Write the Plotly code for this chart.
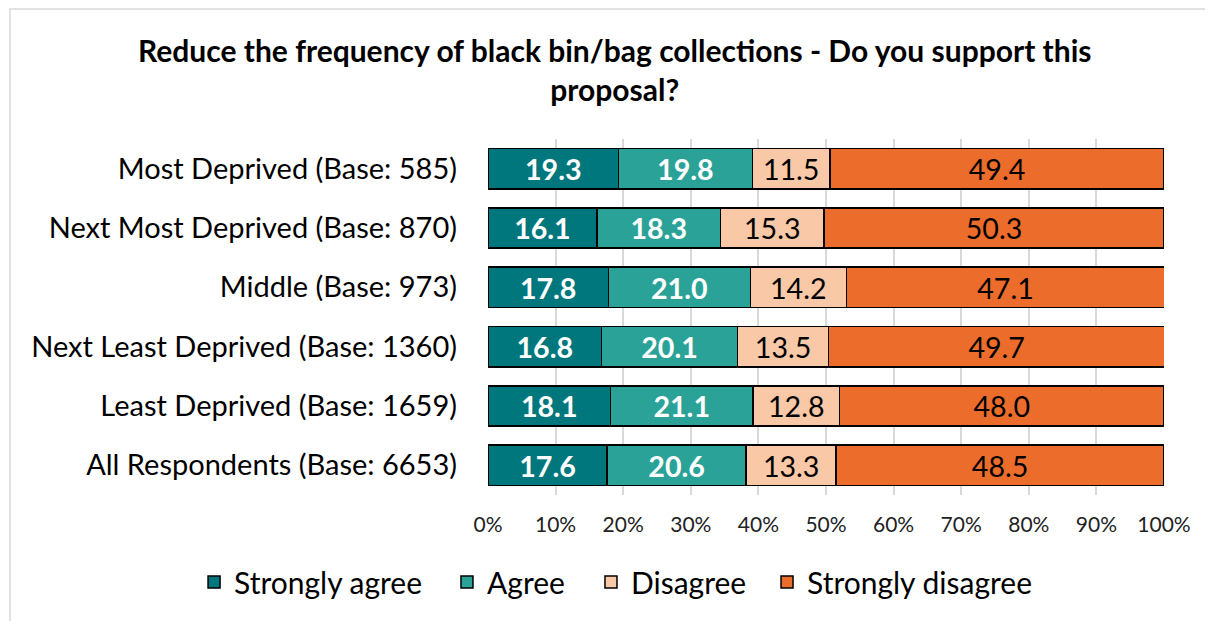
import plotly.graph_objs as go

categories = [
    "Most Deprived (Base: 585)",
    "Next Most Deprived (Base: 870)",
    "Middle (Base: 973)",
    "Next Least Deprived (Base: 1360)",
    "Least Deprived (Base: 1659)",
    "All Respondents (Base: 6653)",
]
strongly_agree = [19.3, 16.1, 17.8, 16.8, 18.1, 17.6]
agree = [19.8, 18.3, 21.0, 20.1, 21.1, 20.6]
disagree = [11.5, 15.3, 14.2, 13.5, 12.8, 13.3]
strongly_disagree = [49.4, 50.3, 47.1, 49.7, 48.0, 48.5]

series = [
    ("Strongly agree", strongly_agree, "#00777C", "white", True),
    ("Agree", agree, "#2BA297", "white", True),
    ("Disagree", disagree, "#F9C8A6", "black", False),
    ("Strongly disagree", strongly_disagree, "#EC6C2C", "black", False),
]

FONT = "Lato"

# one legend per series so the row does not wrap; left edges in container fraction
legend_ids = ["legend", "legend2", "legend3", "legend4"]
legend_x = [0.1544, 0.3643, 0.4838, 0.6299]

fig = go.Figure()
for (name, vals, col, tcol, bold), lid in zip(series, legend_ids):
    txt = [("<b>%.1f</b>" % v) if bold else ("%.1f" % v) for v in vals]
    fig.add_trace(go.Bar(
        name=name, y=categories, x=vals, orientation="h",
        marker=dict(color=col, line=dict(color="black", width=1.5)),
        text=txt, textposition="inside", insidetextanchor="middle",
        textfont=dict(color=tcol, size=30, family=FONT),
        hoverinfo="skip", legend=lid,
    ))

# page body adds an 8px offset, so the figure is 8px smaller than the window
fig.update_layout(
    barmode="stack",
    bargap=0.32,
    width=1205, height=613,
    margin=dict(l=480, r=49, t=131, b=126, autoexpand=False),
    paper_bgcolor="white", plot_bgcolor="white",
    font=dict(family=FONT, color="black"),
    uniformtext=dict(minsize=28, mode="show"),
    showlegend=True,
    xaxis=dict(
        range=[0, 100], dtick=10, ticksuffix="%",
        showgrid=True, gridcolor="#D9D9D9", gridwidth=1.5,
        zeroline=False, showline=False,
        tickfont=dict(size=21, family=FONT, color="#222"),
        ticklabelstandoff=15,
    ),
    yaxis=dict(
        autorange="reversed", showgrid=False,
        tickfont=dict(size=29, family=FONT, color="black"),
        ticklabelstandoff=30,
    ),
)
for lid, lx in zip(legend_ids, legend_x):
    fig.update_layout({lid: dict(
        orientation="h", xref="container", x=lx, xanchor="left",
        yref="container", y=0.0636, yanchor="middle",
        font=dict(size=30, family=FONT), bgcolor="rgba(0,0,0,0)",
    )})

fig.add_annotation(
    text="<b>Reduce the frequency of black bin/bag collections - Do you support this<br>proposal?</b>",
    xref="paper", yref="paper", x=0.188, y=1.194, xanchor="center", yanchor="middle",
    showarrow=False, font=dict(size=30, family=FONT, color="black"),
)

# light chart-area border
fig.add_shape(type="rect", xref="paper", yref="paper",
              x0=(2 - 480) / 676, x1=1.2, y0=-1.0, y1=(487 - 1) / 356,
              line=dict(color="#D9D9D9", width=1.5), layer="below")

fig.write_html("out.html")
